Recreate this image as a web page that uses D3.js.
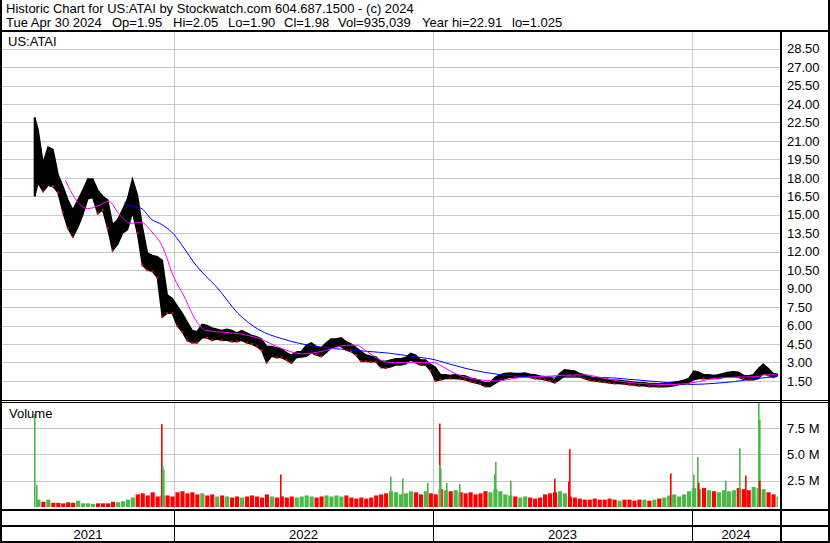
<!DOCTYPE html>
<html><head><meta charset="utf-8">
<script src="https://cdn.jsdelivr.net/npm/d3@7"></script>
<style>
body{margin:0;background:#fff}
svg{display:block}
text{font-family:"Liberation Sans",Arial,sans-serif;fill:#000}
</style>
</head><body><svg id="c" width="830" height="543"></svg>
<script>
// ---------------- DATA ----------------
const headerLine1 = "Historic Chart for US:ATAI by Stockwatch.com 604.687.1500 - (c) 2024";
const headerFields = ["Tue Apr 30 2024","Op=1.95","Hi=2.05","Lo=1.90","Cl=1.98","Vol=935,039","Year hi=22.91","lo=1.025"];
const symbolLabel = "US:ATAI";
const volumeLabel = "Volume";

const firstWeek = "2021-06-14";   // Monday of the IPO week
const firstDay  = "2021-06-18";
const lastDay   = "2024-04-30";

// weekly high / low (USD), one per week from firstWeek
const weeklyHigh = [22.9,21.9,19.2,20.5,20.3,18.3,17.3,16.2,15.4,16.2,17.0,17.9,17.9,17.0,16.5,16.2,14.2,14.6,15.4,16.3,
 17.9,16.6,14.0,11.9,11.7,11.6,11.3,8.5,8.2,7.6,7.0,6.3,5.6,5.5,6.1,6.0,5.8,5.7,5.6,5.7,
 5.6,5.4,5.6,5.4,5.2,5.1,4.9,4.3,4.3,4.2,4.1,3.8,3.6,3.85,3.9,4.4,4.6,4.3,4.2,4.6,
 4.9,4.9,5.0,4.7,4.5,4.2,3.9,3.6,3.5,3.45,3.1,3.1,3.2,3.3,3.3,3.4,3.75,3.6,3.2,3.2,
 2.85,2.6,2.0,2.0,1.95,2.0,1.95,1.9,1.75,1.65,1.5,1.35,1.4,1.8,2.0,2.1,2.15,2.1,2.1,2.15,
 2.05,2.0,1.9,1.85,1.8,1.6,2.1,2.4,2.35,2.3,2.1,2.0,1.85,1.75,1.7,1.65,1.6,1.55,1.55,1.5,
 1.45,1.4,1.35,1.35,1.3,1.3,1.25,1.3,1.35,1.4,1.45,1.55,1.7,2.3,2.2,2.0,2.0,1.95,2.0,2.1,
 2.2,2.25,2.2,1.95,1.9,2.0,2.5,2.85,2.5,2.1,2.05];
const weeklyLow = [16.5,17.6,16.9,17.4,17.3,16.8,15.2,13.9,13.2,14.0,15.0,16.3,16.4,15.1,15.4,13.9,12.1,12.6,13.5,13.8,
 15.2,13.5,10.9,10.5,10.4,9.9,6.7,7.0,7.0,6.0,5.5,4.8,4.6,4.6,5.0,5.0,4.8,4.9,4.8,4.8,
 4.7,4.7,4.8,4.6,4.5,4.3,4.0,3.0,3.5,3.4,3.4,3.2,2.95,3.4,3.45,3.5,3.8,3.6,3.5,3.8,
 4.2,4.3,4.3,4.0,3.9,3.6,3.1,3.1,3.05,3.05,2.6,2.55,2.65,2.8,2.8,2.9,3.2,3.0,2.8,2.8,
 2.35,1.5,1.6,1.7,1.7,1.7,1.65,1.6,1.45,1.35,1.25,1.05,1.05,1.3,1.55,1.7,1.8,1.8,1.85,1.8,
 1.8,1.7,1.65,1.6,1.5,1.35,1.6,1.9,1.9,1.9,1.85,1.7,1.55,1.5,1.45,1.4,1.35,1.3,1.3,1.25,
 1.2,1.15,1.1,1.1,1.05,1.05,1.03,1.03,1.05,1.1,1.2,1.25,1.35,1.6,1.7,1.7,1.7,1.7,1.7,1.8,
 1.85,1.85,1.8,1.65,1.6,1.6,1.7,2.1,1.95,1.8,1.9];

// typical daily volume per week (millions of shares)
const weeklyVolume = [0,0.7,0.5,0.7,0.4,0.4,0.35,0.45,0.4,0.6,0.35,0.35,0.3,0.35,0.35,0.35,0.5,0.45,0.55,0.7,
 0.9,1.2,1.3,1.1,1.4,1.0,1.1,1.1,1.0,
 1.4,1.5,1.3,1.4,1.2,1.3,1.1,1.2,1.0,1.1,1.0,0.9,
 1.0,0.9,1.0,1.1,1.0,0.9,1.2,1.0,0.9,1.0,0.9,1.0,0.9,1.0,1.1,1.0,0.9,1.0,1.1,1.0,
 1.1,1.0,1.1,0.9,0.8,0.9,0.8,0.9,1.1,1.2,1.3,1.5,1.4,1.2,1.3,1.5,1.4,1.2,1.5,1.3,
 1.2,1.7,1.6,1.5,1.6,1.4,1.3,1.4,1.2,1.3,1.5,1.4,1.7,1.5,1.2,1.1,1.0,0.9,1.0,0.9,
 0.8,0.9,1.2,1.3,1.4,1.5,1.3,1.0,0.9,0.8,0.7,0.7,0.8,0.7,0.7,0.8,0.7,0.6,0.7,0.7,
 0.6,0.7,0.7,0.6,0.7,0.8,0.9,1.1,1.2,1.0,1.2,1.5,
 1.8,1.7,1.8,1.6,1.5,1.4,1.6,1.5,1.6,1.8,1.7,1.6,1.9,1.8,1.7,1.4,1.2,1.0];

// single high-volume days (millions of shares)
const spikeDates = ["2021-06-18","2021-06-21","2021-12-14","2021-12-15","2021-12-16","2022-05-31","2022-11-01",
 "2022-11-18","2022-12-23","2023-01-09","2023-01-10","2023-01-11","2023-01-19","2023-02-06","2023-03-28","2023-03-30",
 "2023-04-19","2023-06-21","2023-07-10","2023-07-11","2023-12-01","2024-01-02","2024-01-08","2024-01-09","2024-02-16",
 "2024-03-07","2024-03-15","2024-04-03","2024-04-04","2024-04-05"];
const spikeVolumes = [8.85,2.1,7.9,3.9,3.55,3.1,2.9,2.7,2.3,7.95,4.0,3.65,2.3,2.2,3.1,4.3,2.5,2.7,2.4,5.5,3.2,3.1,4.75,2.3,2.5,5.6,3.0,10.1,8.3,2.5];
const spikeUp = [1,1,0,1,1,0,1,1,1,0,1,1,1,1,1,1,1,0,0,0,0,1,1,0,1,1,0,1,1,0];

// moving averages
const maFastDates = ["2021-08-01","2021-08-15","2021-09-01","2021-09-15","2021-10-01","2021-10-15","2021-11-01","2021-11-15",
 "2021-12-01","2021-12-15","2022-01-01","2022-01-15","2022-02-01","2022-02-15","2022-03-01","2022-04-01","2022-05-01",
 "2022-06-01","2022-07-01","2022-08-01","2022-09-01","2022-09-15","2022-10-01","2022-10-15","2022-11-01","2022-12-01",
 "2023-01-01","2023-01-15","2023-02-01","2023-03-01","2023-04-01","2023-05-01","2023-06-01","2023-07-01","2023-08-01",
 "2023-09-01","2023-10-01","2023-11-01","2023-12-01","2024-01-01","2024-02-01","2024-03-01","2024-04-01","2024-04-15","2024-04-30"];
const maFastValues = [17.8,16.3,15.5,15.7,16.1,15.1,14.3,14.4,13.6,12.5,9.9,8.4,6.4,5.6,5.5,5.35,4.95,4.15,3.7,3.95,4.4,4.4,
 3.85,3.3,3.0,3.0,3.0,2.65,2.1,1.65,1.5,1.75,1.85,1.95,2.0,1.7,1.4,1.25,1.2,1.35,1.7,1.8,1.85,2.0,2.0];
const maSlowDates = ["2021-10-23","2021-11-01","2021-11-15","2021-12-01","2021-12-15","2022-01-01","2022-01-15","2022-02-01",
 "2022-02-15","2022-03-01","2022-04-01","2022-05-01","2022-06-01","2022-07-01","2022-08-01","2022-09-01","2022-10-01",
 "2022-11-01","2022-12-01","2023-01-01","2023-02-01","2023-03-01","2023-04-01","2023-05-01","2023-06-01","2023-07-01",
 "2023-08-01","2023-09-01","2023-10-01","2023-11-01","2023-12-01","2024-01-01","2024-02-01","2024-03-01","2024-04-01","2024-04-30"];
const maSlowValues = [16.0,15.7,15.55,14.6,14.2,13.4,12.3,10.9,10.0,9.2,7.0,5.65,4.95,4.5,4.2,4.05,3.9,3.75,3.5,3.25,2.75,
 2.35,2.05,1.9,1.85,1.8,1.8,1.78,1.65,1.5,1.35,1.22,1.3,1.45,1.7,1.85];

const priceTicks = [1.5,3,4.5,6,7.5,9,10.5,12,13.5,15,16.5,18,19.5,21,22.5,24,25.5,27,28.5];
const volumeTicks = [2.5,5,7.5];
const yearLabels = ["2021","2022","2023","2024"];
const yearStarts = ["2022-01-01","2023-01-01","2024-01-01"];

// ---------------- DRAW ----------------
const parse = d3.timeParse("%Y-%m-%d");
const svg = d3.select("#c");
const W = 830, H = 543;
const L = 2, R = 780;             // plot area left/right
const pTop = 32, pBot = 400;      // price panel
const vTop = 403, vBot = 509;     // volume panel

const x = d3.scaleTime().domain([parse("2022-01-01"), parse("2024-01-01")]).range([174, 692]);
const yP = d3.scaleLinear().domain([0, 29.85]).range([399.4, 32]);
const yV = d3.scaleLinear().domain([0, 9.9]).range([507, 403]);

svg.append("rect").attr("width", W).attr("height", H).attr("fill", "#fff");

const defs = svg.append("defs");
defs.append("clipPath").attr("id","cp").append("rect").attr("x",L).attr("y",pTop).attr("width",R-L).attr("height",pBot-pTop);
defs.append("clipPath").attr("id","cv").append("rect").attr("x",L).attr("y",vTop).attr("width",R-L).attr("height",vBot-vTop-1);

const grid = "#c8c8c8";
svg.append("g").selectAll("line").data(priceTicks).join("line")
  .attr("x1", L).attr("x2", R)
  .attr("y1", d => Math.round(yP(d)) + 0.5).attr("y2", d => Math.round(yP(d)) + 0.5)
  .attr("stroke", grid);
svg.append("g").selectAll("line").data(volumeTicks).join("line")
  .attr("x1", L).attr("x2", R)
  .attr("y1", d => Math.round(yV(d)) + 0.5).attr("y2", d => Math.round(yV(d)) + 0.5)
  .attr("stroke", grid);
const ys = yearStarts.map(parse);
svg.append("g").selectAll("line").data(ys).join("line")
  .attr("x1", d => Math.round(x(d)) + 0.5).attr("x2", d => Math.round(x(d)) + 0.5)
  .attr("y1", pTop).attr("y2", pBot).attr("stroke", grid);
svg.append("g").selectAll("line").data(ys).join("line")
  .attr("x1", d => Math.round(x(d)) + 0.5).attr("x2", d => Math.round(x(d)) + 0.5)
  .attr("y1", vTop).attr("y2", vBot).attr("stroke", grid);

// weekly records
const wk0 = parse(firstWeek), d0 = parse(firstDay), dN = parse(lastDay);
const weeks = weeklyHigh.map((h, i) => {
  const ws = d3.timeMonday.offset(wk0, i);
  const we = d3.timeDay.offset(ws, 7);
  const x0 = x(ws < d0 ? d0 : ws);
  const x1 = we > dN ? x(dN) + 1.5 : x(we);
  let xc = x(d3.timeHour.offset(ws, 60));
  if (i === 0) xc = x(d0) + 0.5;
  if (we > dN) xc = x(dN);
  return {i, hi: h, lo: weeklyLow[i], vol: weeklyVolume[i], x0, x1, xc};
});
weeks.forEach((w, i) => {
  const mid = (w.hi + w.lo) / 2;
  const prev = i > 0 ? (weeks[i-1].hi + weeks[i-1].lo) / 2 : mid - 1;
  w.up = mid >= prev;
});

// volume bars
const gv = svg.append("g").attr("clip-path", "url(#cv)");
const green = "#4cb848", red = "#ff0000";
gv.selectAll("rect.w").data(weeks).join("rect").attr("class","w")
  .attr("x", d => d.x0).attr("width", d => Math.max(1, d.x1 - d.x0 - 0.8))
  .attr("y", d => yV(d.vol)).attr("height", d => yV(0) - yV(d.vol))
  .attr("fill", d => d.up ? green : red);
const spikes = spikeDates.map((s, i) => ({d: parse(s), v: spikeVolumes[i], up: spikeUp[i]}));
gv.selectAll("rect.s").data(spikes).join("rect").attr("class","s")
  .attr("x", d => Math.round(x(d.d))).attr("width", 1.6)
  .attr("y", d => yV(d.v)).attr("height", d => yV(0) - yV(d.v))
  .attr("fill", d => d.up ? green : red);

// price range band (weekly high/low)
const gp = svg.append("g").attr("clip-path", "url(#cp)");
const band = d3.area().x(d => d.xc).y0(d => yP(d.lo)).y1(d => yP(d.hi)).curve(d3.curveLinear);
gp.append("path").datum(weeks).attr("d", band).attr("fill", "#000").attr("stroke", "#000").attr("stroke-width", 1.5).attr("stroke-linejoin","miter");
gp.append("rect").attr("x", x(d0) - 0.5).attr("width", 2)
  .attr("y", yP(weeks[0].hi)).attr("height", yP(weeks[0].lo) - yP(weeks[0].hi)).attr("fill", "#000");
gp.selectAll("rect.dn").data(weeks.filter(w => !w.up)).join("rect").attr("class","dn")
  .attr("x", d => d.xc - 1).attr("width", 2)
  .attr("y", d => yP(d.lo) - 1).attr("height", 2).attr("fill", red);

// moving averages
const line = d3.line().x(d => x(d.d)).y(d => yP(d.v)).curve(d3.curveMonotoneX);
const maFast = maFastDates.map((s, i) => ({d: parse(s), v: maFastValues[i]}));
const maSlow = maSlowDates.map((s, i) => ({d: parse(s), v: maSlowValues[i]}));
gp.append("path").datum(maSlow).attr("d", line).attr("fill","none").attr("stroke","#0000ff").attr("stroke-width",1);
gp.append("path").datum(maFast).attr("d", line).attr("fill","none").attr("stroke","#ff00ff").attr("stroke-width",1);

// axes
const axP = svg.append("g").attr("transform", `translate(${R+2},0)`)
  .call(d3.axisRight(yP).tickValues(priceTicks).tickFormat(d3.format(".2f")).tickSize(0).tickPadding(5));
const axV = svg.append("g").attr("transform", `translate(${R+2},0)`)
  .call(d3.axisRight(yV).tickValues(volumeTicks).tickFormat(d => d.toFixed(1) + " M").tickSize(0).tickPadding(5));
[axP, axV].forEach(a => {
  a.select(".domain").remove();
  a.selectAll("text").attr("font-size", 13).attr("font-family", '"Liberation Sans",Arial,sans-serif').attr("fill","#000");
});

// frame lines
const blk = (x0, y0, w, h) => svg.append("rect").attr("x", x0).attr("y", y0).attr("width", w).attr("height", h).attr("fill", "#000");
blk(0, 0, 2, H);
blk(W - 2, 0, 2, H);
blk(0, 30, W, 2);
blk(R, 32, 2, H - 32);
blk(0, 400, W, 1);
blk(0, 402, W, 1);
blk(0, 509, W, 2);
blk(0, 525, W, 2);
blk(0, H - 2, W, 2);
svg.append("g").selectAll("rect").data(ys).join("rect")
  .attr("x", d => Math.round(x(d))).attr("y", 511).attr("width", 1).attr("height", 30).attr("fill", "#000");

// x labels centered in each year segment
const bounds = [L, ...ys.map(d => x(d)), R];
svg.append("g").selectAll("text").data(yearLabels).join("text")
  .attr("x", (d, i) => (bounds[i] + bounds[i+1]) / 2).attr("y", 539)
  .attr("text-anchor", "middle").attr("font-size", 13).text(d => d);

// header + labels
svg.append("text").attr("x", 6).attr("y", 12.5).attr("font-size", 13).text(headerLine1);
const fieldX = [6, 112, 173, 228, 284, 338, 422, 512];
svg.append("text").attr("y", 26.5).attr("font-size", 13)
  .selectAll("tspan").data(headerFields).join("tspan")
  .attr("x", (d, i) => fieldX[i]).text(d => d);
svg.append("text").attr("x", 8).attr("y", 46).attr("font-size", 13).text(symbolLabel);
svg.append("text").attr("x", 9).attr("y", 417.5).attr("font-size", 13).text(volumeLabel);
</script>
</body></html>
